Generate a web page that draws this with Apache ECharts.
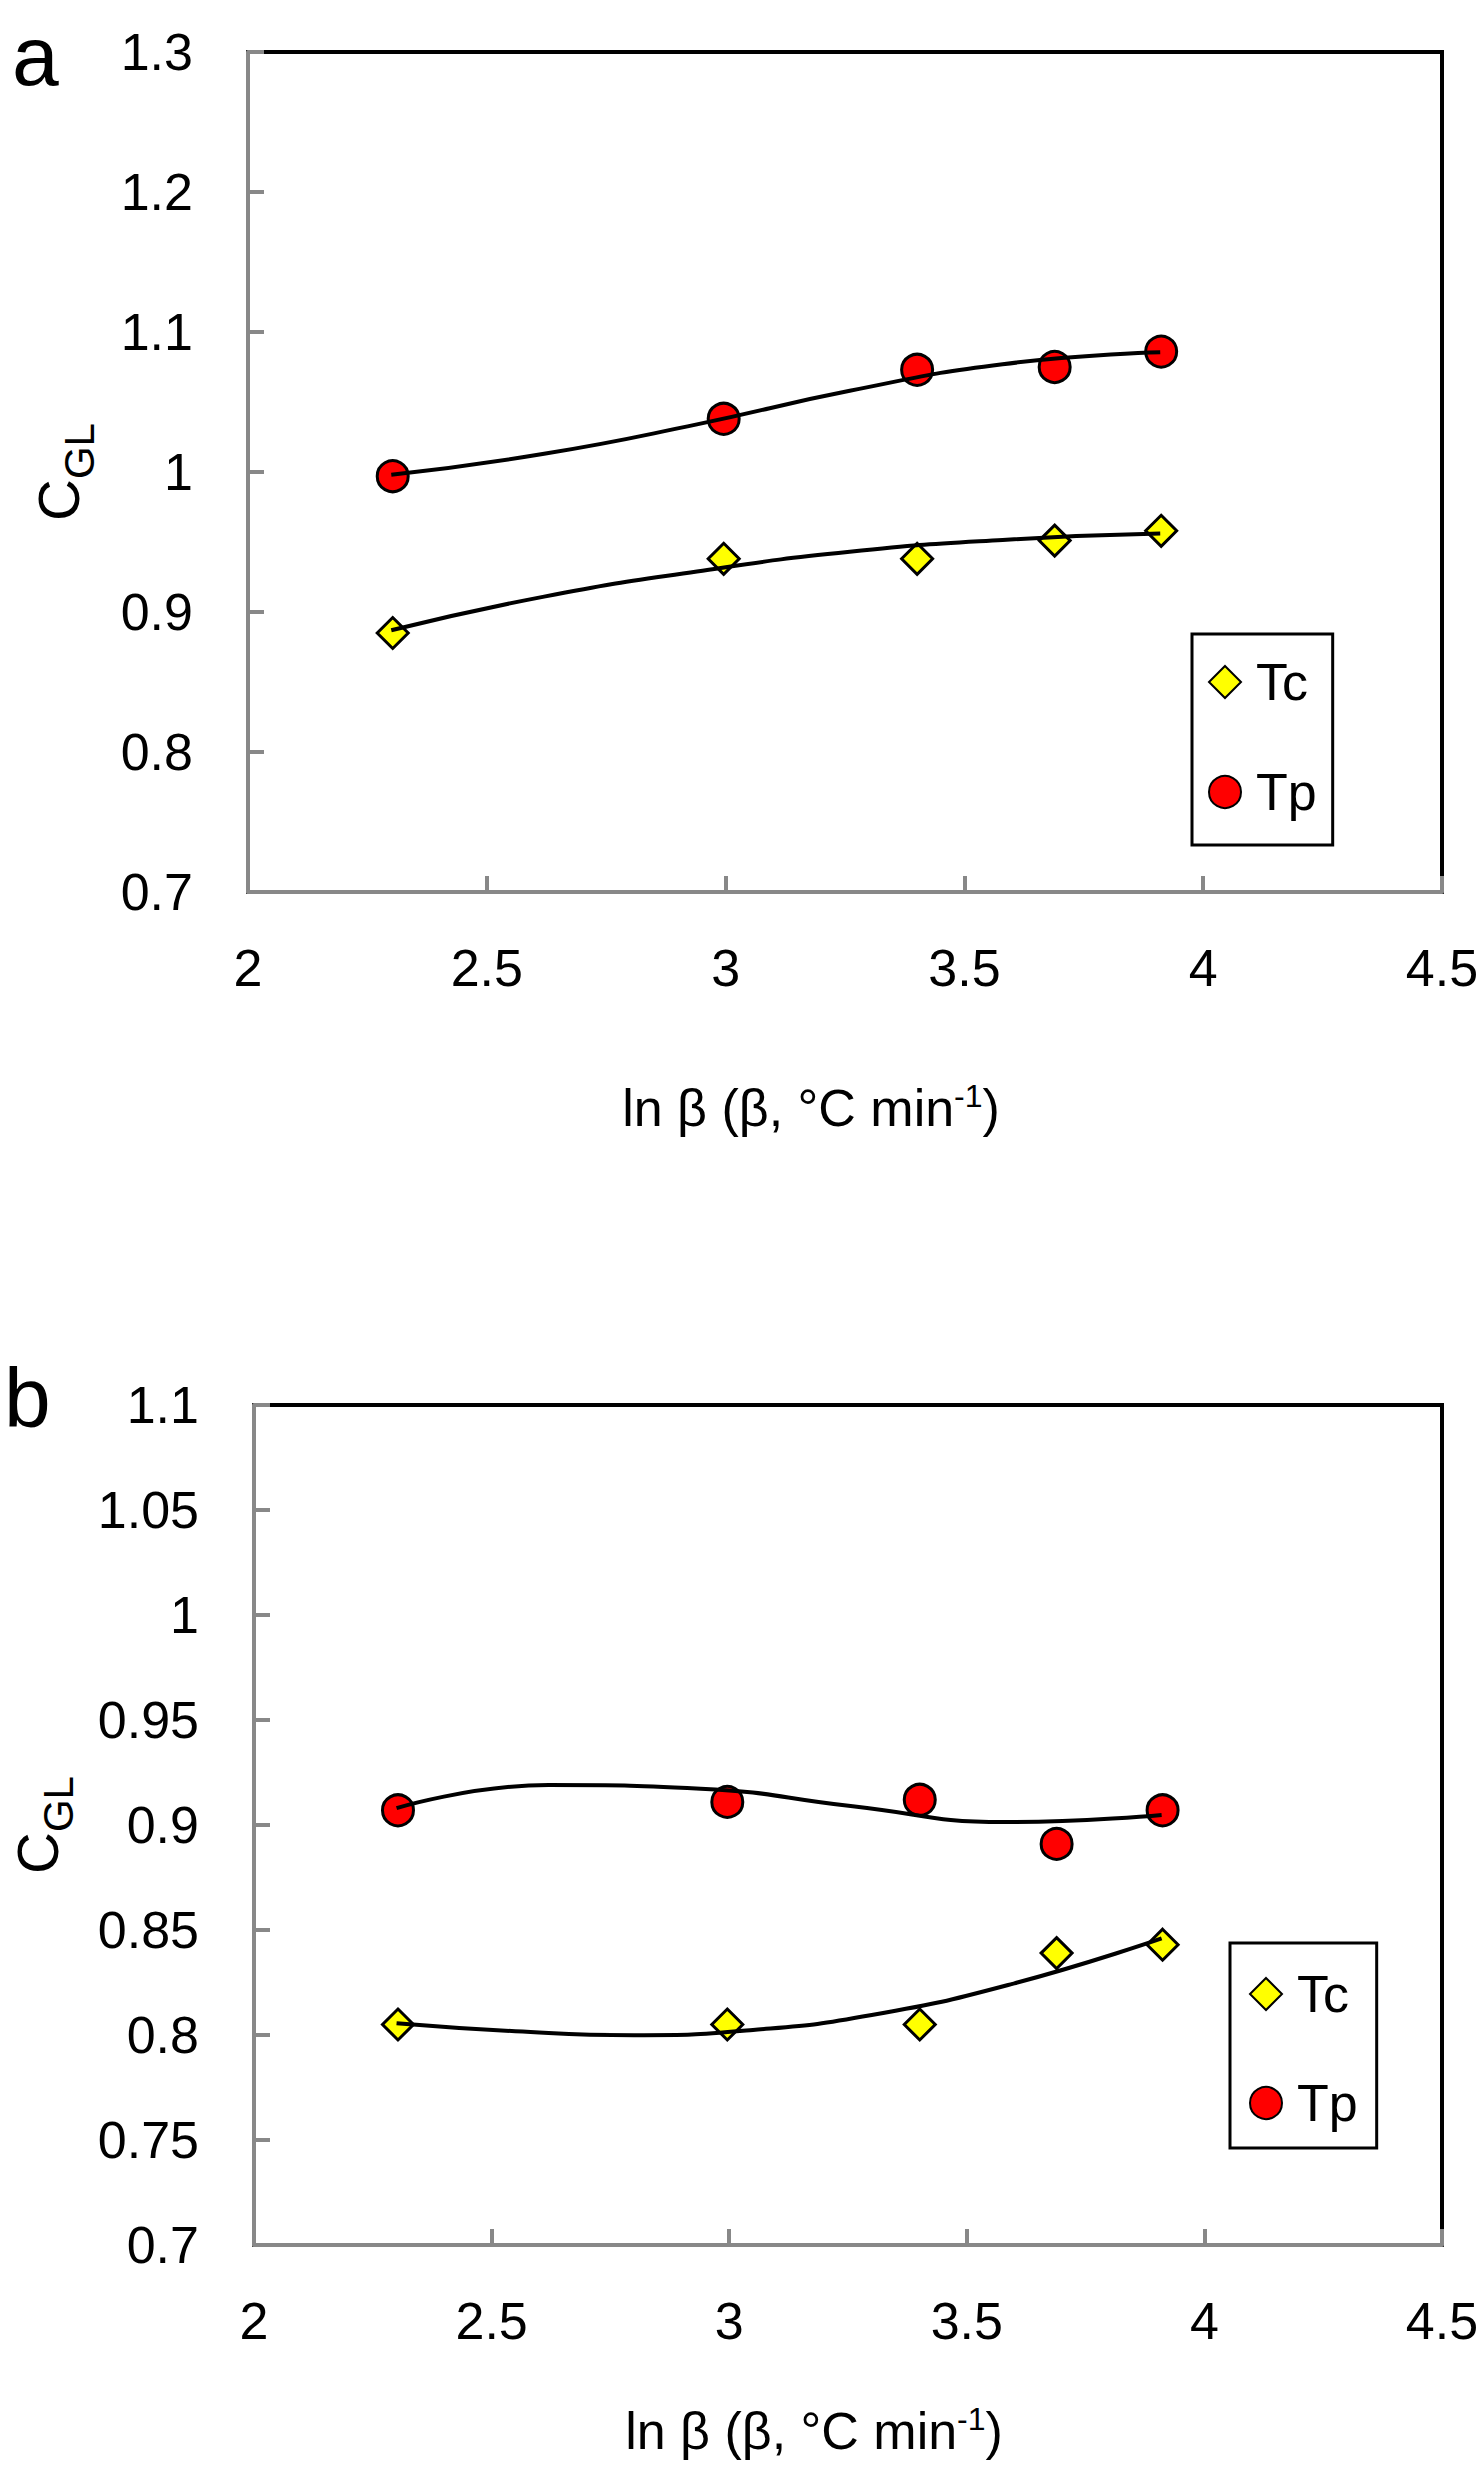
<!DOCTYPE html>
<html>
<head>
<meta charset="utf-8">
<script src="https://cdn.jsdelivr.net/npm/echarts@6/dist/echarts.min.js"></script>
<style>
html,body{margin:0;padding:0;background:#fff;}
#chart{width:1482px;height:2468px;}
</style>
</head>
<body>
<div id="chart"></div>
<script>
// ---- data ----
const xTicks = [2, 2.5, 3, 3.5, 4, 4.5];
const yTicksA = [0.7, 0.8, 0.9, 1.0, 1.1, 1.2, 1.3];
const yTicksB = [0.7, 0.75, 0.8, 0.85, 0.9, 0.95, 1.0, 1.05, 1.1];
const seriesNames = ['Tc', 'Tp'];

const lnBeta = [2.303, 2.996, 3.401, 3.689, 3.912];
const tcA = [0.885, 0.938, 0.938, 0.951, 0.958];
const tpA = [0.997, 1.038, 1.073, 1.075, 1.086];
const tcB = [0.805, 0.805, 0.805, 0.839, 0.843];
const tpB = [0.907, 0.911, 0.912, 0.891, 0.907];

// trend curves
const trendX   = [2.3, 2.62, 2.94, 3.26, 3.58, 3.91];
const tcTrendA = [0.887, 0.911, 0.929, 0.943, 0.9515, 0.956];
const tpTrendA = [0.998, 1.013, 1.034, 1.058, 1.077, 1.0855];
const tpTrendB = [0.908, 0.919, 0.9173, 0.9089, 0.9014, 0.9048];
const tcTrendBX = [2.3, 2.55, 2.8, 3.05, 3.3, 3.6, 3.91];
const tcTrendB  = [0.8056, 0.8018, 0.7999, 0.8024, 0.8095, 0.8246, 0.846];

// ---- build ----
const FONT = 'Liberation Sans, Arial, sans-serif';
const pairs = (xs, ys) => xs.map((x, i) => [x, ys[i]]);

function xAxisCfg(gridIndex, nameGap) {
  return {
    type: 'value', gridIndex,
    min: xTicks[0], max: xTicks[xTicks.length - 1], interval: xTicks[1] - xTicks[0],
    axisLine: { show: true, onZero: false, lineStyle: { color: '#888', width: 4 } },
    axisTick: { show: true, inside: true, length: 16, lineStyle: { color: '#888', width: 4 } },
    splitLine: { show: false },
    axisLabel: { fontSize: 52, color: '#000', fontFamily: FONT, margin: 48, lineHeight: 55 },
    name: '{n|ln β (β, °C min}{sup|-1}{n|)}',
    nameLocation: 'middle', nameGap,
    nameTextStyle: {
      color: '#000', fontFamily: FONT, padding: [0, 68, 0, 0],
      rich: {
        n: { fontSize: 52, lineHeight: 55, fontFamily: FONT, color: '#000' },
        sup: { fontSize: 32, lineHeight: 34, verticalAlign: 'top', fontFamily: FONT, color: '#000' }
      }
    }
  };
}
function yAxisCfg(gridIndex, ticks, nameGap) {
  return {
    type: 'value', gridIndex,
    min: ticks[0], max: ticks[ticks.length - 1], interval: +(ticks[1] - ticks[0]).toFixed(4),
    axisLine: { show: true, onZero: false, lineStyle: { color: '#888', width: 4 } },
    axisTick: { show: true, inside: true, length: 16, lineStyle: { color: '#888', width: 4 } },
    splitLine: { show: false },
    axisLabel: { fontSize: 52, color: '#000', fontFamily: FONT, margin: 55 },
    name: '{c|C}{s|GL}',
    nameLocation: 'middle', nameRotate: 90, nameGap,
    nameTextStyle: {
      color: '#000', fontFamily: FONT,
      rich: {
        c: { fontSize: 58, fontFamily: FONT, color: '#000' },
        s: { fontSize: 42, padding: [42, 0, 0, 0], fontFamily: FONT, color: '#000' }
      }
    }
  };
}
function scatter(name, idx, xs, ys) {
  const isTc = name === 'Tc';
  return {
    name, type: 'scatter', xAxisIndex: idx, yAxisIndex: idx,
    data: pairs(xs, ys),
    symbol: isTc ? 'diamond' : 'circle',
    symbolSize: 31,
    itemStyle: { color: isTc ? '#FFFF00' : '#FF0000', borderColor: '#000', borderWidth: 3, opacity: 1 },
    z: 2
  };
}
function trend(idx, xs, ys) {
  return {
    type: 'line', xAxisIndex: idx, yAxisIndex: idx,
    data: pairs(xs, ys),
    smooth: 0.5,
    showSymbol: false, symbol: 'none',
    lineStyle: { color: '#000', width: 4 },
    z: 3, silent: true
  };
}
function legendCfg(left, top, padding, itemGap) {
  return {
    data: seriesNames, orient: 'vertical', left, top, padding, itemGap,
    itemWidth: 32, itemHeight: 32,
    borderColor: '#000', borderWidth: 3, backgroundColor: '#fff',
    textStyle: { fontSize: 52, color: '#000', fontFamily: FONT, padding: [0, 0, 0, 10] },
    selectedMode: false
  };
}

const chart = echarts.init(document.getElementById('chart'), null, { renderer: 'svg', width: 1482, height: 2468 });
chart.setOption({
  animation: false,
  backgroundColor: '#fff',
  grid: [
    { left: 248, top: 52, width: 1194, height: 840, show: true, borderColor: '#000', borderWidth: 4, backgroundColor: 'transparent' },
    { left: 248, top: 1405, width: 1194, height: 840, show: true, borderColor: '#000', borderWidth: 4, backgroundColor: 'transparent' }
  ],
  xAxis: [xAxisCfg(0, 188), xAxisCfg(1, 158)],
  yAxis: [yAxisCfg(0, yTicksA, 148), yAxisCfg(1, yTicksB, 175)],
  legend: [
    legendCfg(1192, 634, [22, 16, 27, 16], 58),
    legendCfg(1230, 1943, [25, 19, 19, 19], 57)
  ],
  graphic: [
    { type: 'text', left: 12, top: 14, style: { text: 'a', font: '84px Liberation Sans', fill: '#000' } },
    { type: 'text', left: 4, top: 1356, style: { text: 'b', font: '84px Liberation Sans', fill: '#000' } }
  ],
  series: [
    scatter('Tc', 0, lnBeta, tcA),
    scatter('Tp', 0, lnBeta, tpA),
    trend(0, trendX, tcTrendA),
    trend(0, trendX, tpTrendA),
    scatter('Tc', 1, lnBeta, tcB),
    scatter('Tp', 1, lnBeta, tpB),
    trend(1, tcTrendBX, tcTrendB),
    trend(1, trendX, tpTrendB)
  ]
});
</script>
</body>
</html>
